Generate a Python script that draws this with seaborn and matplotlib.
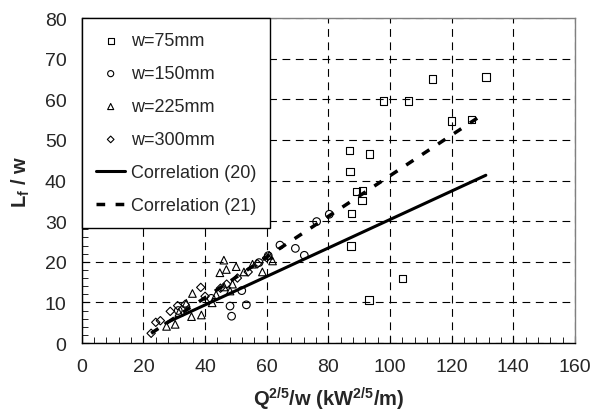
import matplotlib
matplotlib.use("Agg")
import matplotlib.pyplot as plt
import seaborn as sns
from matplotlib.ticker import MultipleLocator

# --- data ---
w75_x = [131.1, 113.8, 97.9, 106.0, 120.0, 126.5, 86.8, 93.3, 87.0, 89.1, 91.1, 91.0, 87.5, 87.4, 93.1, 104.0]
w75_y = [65.5, 65.0, 59.6, 59.6, 54.7, 55.0, 47.4, 46.6, 42.2, 37.3, 37.5, 35.1, 31.9, 23.9, 10.6, 15.9]

w150_x = [76.2, 80.3, 64.3, 69.3, 72.2, 51.9, 48.1, 53.4, 48.6, 31.3, 42.0, 57.5, 60.5]
w150_y = [29.9, 31.7, 24.1, 23.3, 21.6, 12.9, 9.1, 9.4, 6.6, 8.0, 11.0, 19.8, 21.5]

w225_x = [27.5, 30.3, 31.5, 33.9, 35.9, 35.6, 38.8, 42.3, 43.6, 44.8, 46.1, 46.9, 46.2,
          48.9, 48.1, 50.1, 52.6, 55.4, 58.6, 60.8, 61.9]
w225_y = [4.1, 4.6, 7.5, 9.8, 12.2, 6.5, 6.9, 9.9, 11.9, 17.3, 20.4, 18.1, 13.8,
          14.5, 12.8, 18.8, 17.5, 19.4, 17.5, 21.6, 20.2]

w300_x = [22.5, 24.0, 25.5, 28.7, 31.1, 33.5, 38.6, 40.0, 45.0, 47.0, 50.5, 54.0, 57.0, 60.0]
w300_y = [2.4, 5.1, 5.5, 7.8, 9.2, 9.5, 13.7, 11.5, 13.5, 14.5, 16.0, 17.5, 19.5, 21.0]

corr20_x = [27.2, 131.1]
corr20_y = [4.9, 41.3]
corr21_x = [22.5, 130.0]
corr21_y = [2.4, 56.2]

sns.set_style("white")
plt.rcParams['font.family'] = ['Liberation Sans', 'DejaVu Sans']
plt.rcParams['mathtext.fontset'] = 'custom'
plt.rcParams['mathtext.rm'] = 'Liberation Sans'
plt.rcParams['mathtext.bf'] = 'Liberation Sans:bold'

fig = plt.figure(figsize=(5.97, 4.14), dpi=100)
ax = fig.add_axes([0.137, 0.169, 0.826, 0.785])

mk = dict(facecolor='none', edgecolor='black', linewidth=0.8, s=30, ax=ax, zorder=3)
sns.scatterplot(x=w75_x, y=w75_y, marker='s', label='w=75mm', **mk)
sns.scatterplot(x=w150_x, y=w150_y, marker='o', label='w=150mm', **mk)
sns.scatterplot(x=w225_x, y=w225_y, marker='^', label='w=225mm', **mk)
sns.scatterplot(x=w300_x, y=w300_y, marker='D', label='w=300mm', **dict(mk, s=18))

sns.lineplot(x=corr20_x, y=corr20_y, color='black', linewidth=2.2, ax=ax, label='Correlation (20)', zorder=4)
sns.lineplot(x=corr21_x, y=corr21_y, color='black', linewidth=2.5, linestyle=(0, (2.5, 3)), ax=ax,
             label='Correlation (21)', zorder=4)

ax.set_xlim(0, 160)
ax.set_ylim(0, 80)
ax.xaxis.set_major_locator(MultipleLocator(20))
ax.xaxis.set_minor_locator(MultipleLocator(4))
ax.yaxis.set_major_locator(MultipleLocator(10))
ax.yaxis.set_minor_locator(MultipleLocator(2))
ax.tick_params(which='both', direction='in', bottom=True, left=True, top=False, right=False,
               labelsize=14, pad=11, color='black')
ax.tick_params(which='major', length=5)
ax.tick_params(which='minor', length=4)

ax.grid(True, which='major', color='black', linestyle=(0, (7, 5)), linewidth=0.8)

for side in ['left', 'bottom']:
    ax.spines[side].set_color('black')
    ax.spines[side].set_linewidth(1.0)
for side in ['top', 'right']:
    ax.spines[side].set_color('#808080')
    ax.spines[side].set_linewidth(1.0)

ax.set_xlabel(r'Q$^{\mathbf{2/5}}$/w (kW$^{\mathbf{2/5}}$/m)', fontsize=14.5, fontweight='bold', labelpad=7)
ax.set_ylabel(r'L$_{\mathbf{f}}$ / w', fontsize=14.5, fontweight='bold', labelpad=9)

leg = ax.legend(loc='upper left', bbox_to_anchor=(0.0, 1.0), fontsize=13, frameon=True,
                fancybox=False, edgecolor='black', framealpha=1, labelspacing=0.88,
                handlelength=1.6, handletextpad=0.3, borderpad=0.8, borderaxespad=0.0, markerscale=0.8)
leg.get_frame().set_linewidth(1.0)

fig.savefig('out.png', dpi=100)
